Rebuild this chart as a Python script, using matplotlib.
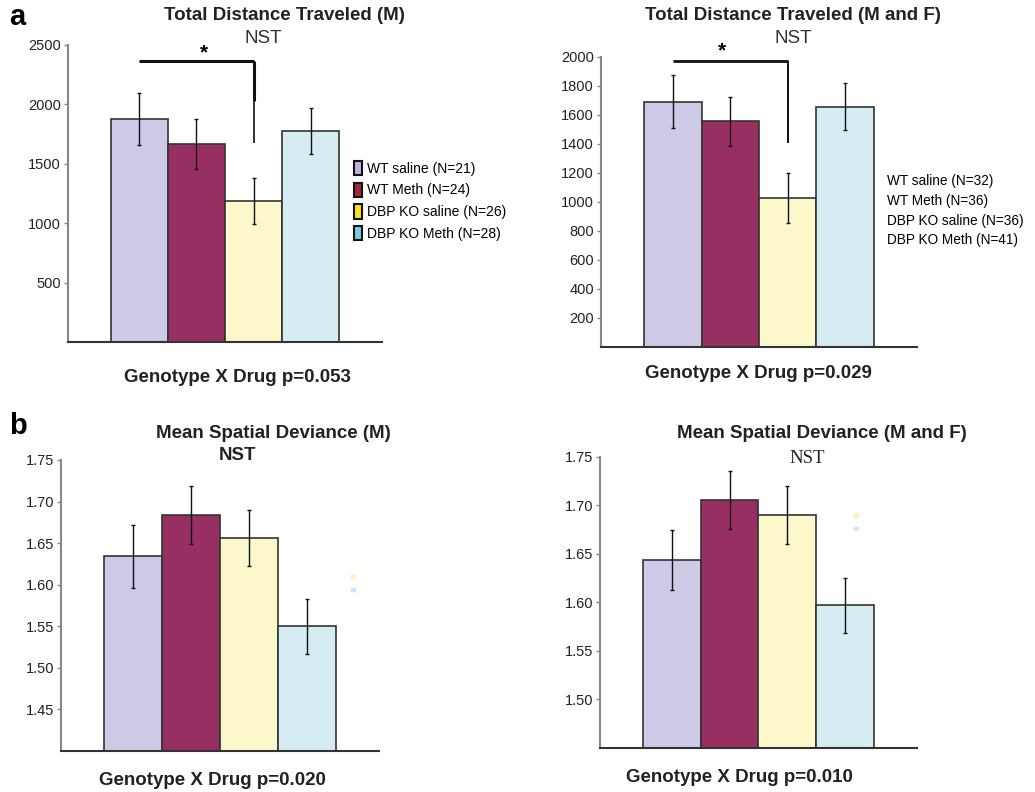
import numpy as np
import matplotlib
matplotlib.use("Agg")
import matplotlib.pyplot as plt
from matplotlib.patches import Patch
from matplotlib.ticker import FormatStrFormatter

plt.rcParams['font.family'] = ['Liberation Sans', 'DejaVu Sans']

# groups and colours
groups = ['WT saline', 'WT Meth', 'DBP KO saline', 'DBP KO Meth']
bar_colors = ['#cccae6', '#982f62', '#fcf8cc', '#d4ecf2']
legend_colors = ['#c4b0e0', '#a02a3a', '#f4e418', '#78cce0']

# panel a: total distance traveled
dist_m = [1877, 1667, 1187, 1776]
dist_m_err = [222, 210, 197, 194]
n_m = [21, 24, 26, 28]

dist_mf = [1690, 1555, 1030, 1655]
dist_mf_err = [183, 172, 172, 162]
n_mf = [32, 36, 36, 41]

# panel b: mean spatial deviance
dev_m = [1.634, 1.684, 1.656, 1.550]
dev_m_err = [0.038, 0.035, 0.034, 0.033]

dev_mf = [1.644, 1.706, 1.690, 1.597]
dev_mf_err = [0.031, 0.030, 0.030, 0.028]

fig = plt.figure(figsize=(10.35, 7.92), dpi=100)

TITLE_SIZE = 13.5
NST_SIZE = 13.5
CAPTION_SIZE = 13.5


def draw_panel(rect, values, errors, ylim, yticks, caption, cap_pos):
    ax = fig.add_axes(rect)
    x = np.arange(len(values))
    ax.bar(x, values, width=1.0, color=bar_colors, edgecolor='#333333',
           linewidth=1.2)
    ax.errorbar(x, values, yerr=errors, fmt='none', ecolor='#111111',
                elinewidth=1.0, capsize=1.5, capthick=1.0)
    ax.set_xlim(-1.25, 4.25)
    ax.set_ylim(*ylim)
    ax.set_yticks(yticks)
    ax.set_xticks([])
    for s in ['top', 'right']:
        ax.spines[s].set_visible(False)
    ax.spines['left'].set_color('#888888')
    ax.spines['left'].set_linewidth(1.5)
    ax.spines['bottom'].set_color('#333333')
    ax.spines['bottom'].set_linewidth(1.5)
    ax.tick_params(axis='y', length=3, width=1, color='#888888',
                   labelsize=10.5, pad=2, labelcolor='#222222')
    ax.text(cap_pos[0], cap_pos[1], caption, transform=ax.transAxes,
            ha='center', va='center', fontsize=CAPTION_SIZE,
            fontweight='bold', color='#222222')
    return ax


# a, left: males
ax1 = draw_panel([0.0657, 0.5682, 0.3034, 0.375], dist_m, dist_m_err,
                 (0, 2500), [500, 1000, 1500, 2000, 2500],
                 'Genotype X Drug p=0.053', (0.54, -0.12))
fig.text(0.275, 0.980, 'Total Distance Traveled (M)', ha='center',
         va='center', fontsize=TITLE_SIZE, fontweight='bold', color='#222222')
fig.text(0.254, 0.951, 'NST', ha='center', va='center', fontsize=NST_SIZE,
         color='#333333')
ax1.plot([0, 2], [2365, 2365], color='#111111', lw=2.2, solid_capstyle='butt')
ax1.plot([2, 2], [2365, 2030], color='#111111', lw=2.2, solid_capstyle='butt')
ax1.plot([2, 2], [2030, 1675], color='#111111', lw=1.2, solid_capstyle='butt')
ax1.text(1.14, 2430, '*', ha='center', va='center', fontsize=15,
         fontweight='bold')
handles = [Patch(facecolor=c, edgecolor='#111111', linewidth=1.5)
           for c in legend_colors]
labels = [f'{g} (N={n})' for g, n in zip(groups, n_m)]
ax1.legend(handles, labels, loc='center left', bbox_to_anchor=(0.912, 0.475),
           frameon=False, fontsize=10, handlelength=0.55, handleheight=1.2,
           handletextpad=0.35, labelspacing=0.5, borderaxespad=0,
           borderpad=0)

# a, right: males and females
ax2 = draw_panel([0.5807, 0.5619, 0.3053, 0.3662], dist_mf, dist_mf_err,
                 (0, 2000), list(range(200, 2001, 200)),
                 'Genotype X Drug p=0.029', (0.497, -0.09))
fig.text(0.766, 0.980, 'Total Distance Traveled (M and F)', ha='center',
         va='center', fontsize=TITLE_SIZE, fontweight='bold', color='#222222')
fig.text(0.766, 0.951, 'NST', ha='center', va='center', fontsize=NST_SIZE,
         color='#333333')
ax2.plot([0, 2], [1970, 1970], color='#111111', lw=2.0, solid_capstyle='butt')
ax2.plot([2, 2], [1970, 1407], color='#111111', lw=1.4, solid_capstyle='butt')
ax2.text(0.85, 2045, '*', ha='center', va='center', fontsize=15,
         fontweight='bold', clip_on=False)
blank = [Patch(facecolor='none', edgecolor='none') for _ in groups]
labels2 = [f'{g} (N={n})' for g, n in zip(groups, n_mf)]
ax2.legend(blank, labels2, loc='center left', bbox_to_anchor=(0.905, 0.47),
           frameon=False, fontsize=9.8, handlelength=0, handletextpad=0,
           labelspacing=0.42, borderaxespad=0, borderpad=0)

# b, left: males
ax3 = draw_panel([0.0589, 0.0518, 0.3072, 0.3674], dev_m, dev_m_err,
                 (1.40, 1.75), [1.45, 1.50, 1.55, 1.60, 1.65, 1.70, 1.75],
                 'Genotype X Drug p=0.020', (0.475, -0.1))
ax3.yaxis.set_major_formatter(FormatStrFormatter('%.2f'))
fig.text(0.264, 0.453, 'Mean Spatial Deviance (M)', ha='center',
         va='center', fontsize=TITLE_SIZE, fontweight='bold', color='#222222')
fig.text(0.229, 0.425, 'NST', ha='center', va='center', fontsize=NST_SIZE,
         fontweight='bold', color='#222222')

# b, right: males and females
ax4 = draw_panel([0.5797, 0.0556, 0.3063, 0.3674], dev_mf, dev_mf_err,
                 (1.45, 1.75), [1.50, 1.55, 1.60, 1.65, 1.70, 1.75],
                 'Genotype X Drug p=0.010', (0.44, -0.103))
ax4.yaxis.set_major_formatter(FormatStrFormatter('%.2f'))
fig.text(0.794, 0.453, 'Mean Spatial Deviance (M and F)', ha='center',
         va='center', fontsize=TITLE_SIZE, fontweight='bold', color='#222222')
fig.text(0.78, 0.421, 'NST', ha='center', va='center', fontsize=NST_SIZE,
         family='Liberation Serif', color='#222222')

# faint legend remnants in panel b
for ax, (fx, fy) in [(ax3, (0.918, 0.6)), (ax4, (0.807, 0.80))]:
    ax.scatter([fx, fx], [fy, fy - 0.045], transform=ax.transAxes, s=6,
               marker='s', c=['#fbf3b8', '#cbe9f3'], clip_on=False)

# panel letters
fig.text(0.009, 0.979, 'a', fontsize=21, fontweight='bold', va='center')
fig.text(0.009, 0.462, 'b', fontsize=21, fontweight='bold', va='center')

fig.savefig('out.png', dpi=100, facecolor='white')
